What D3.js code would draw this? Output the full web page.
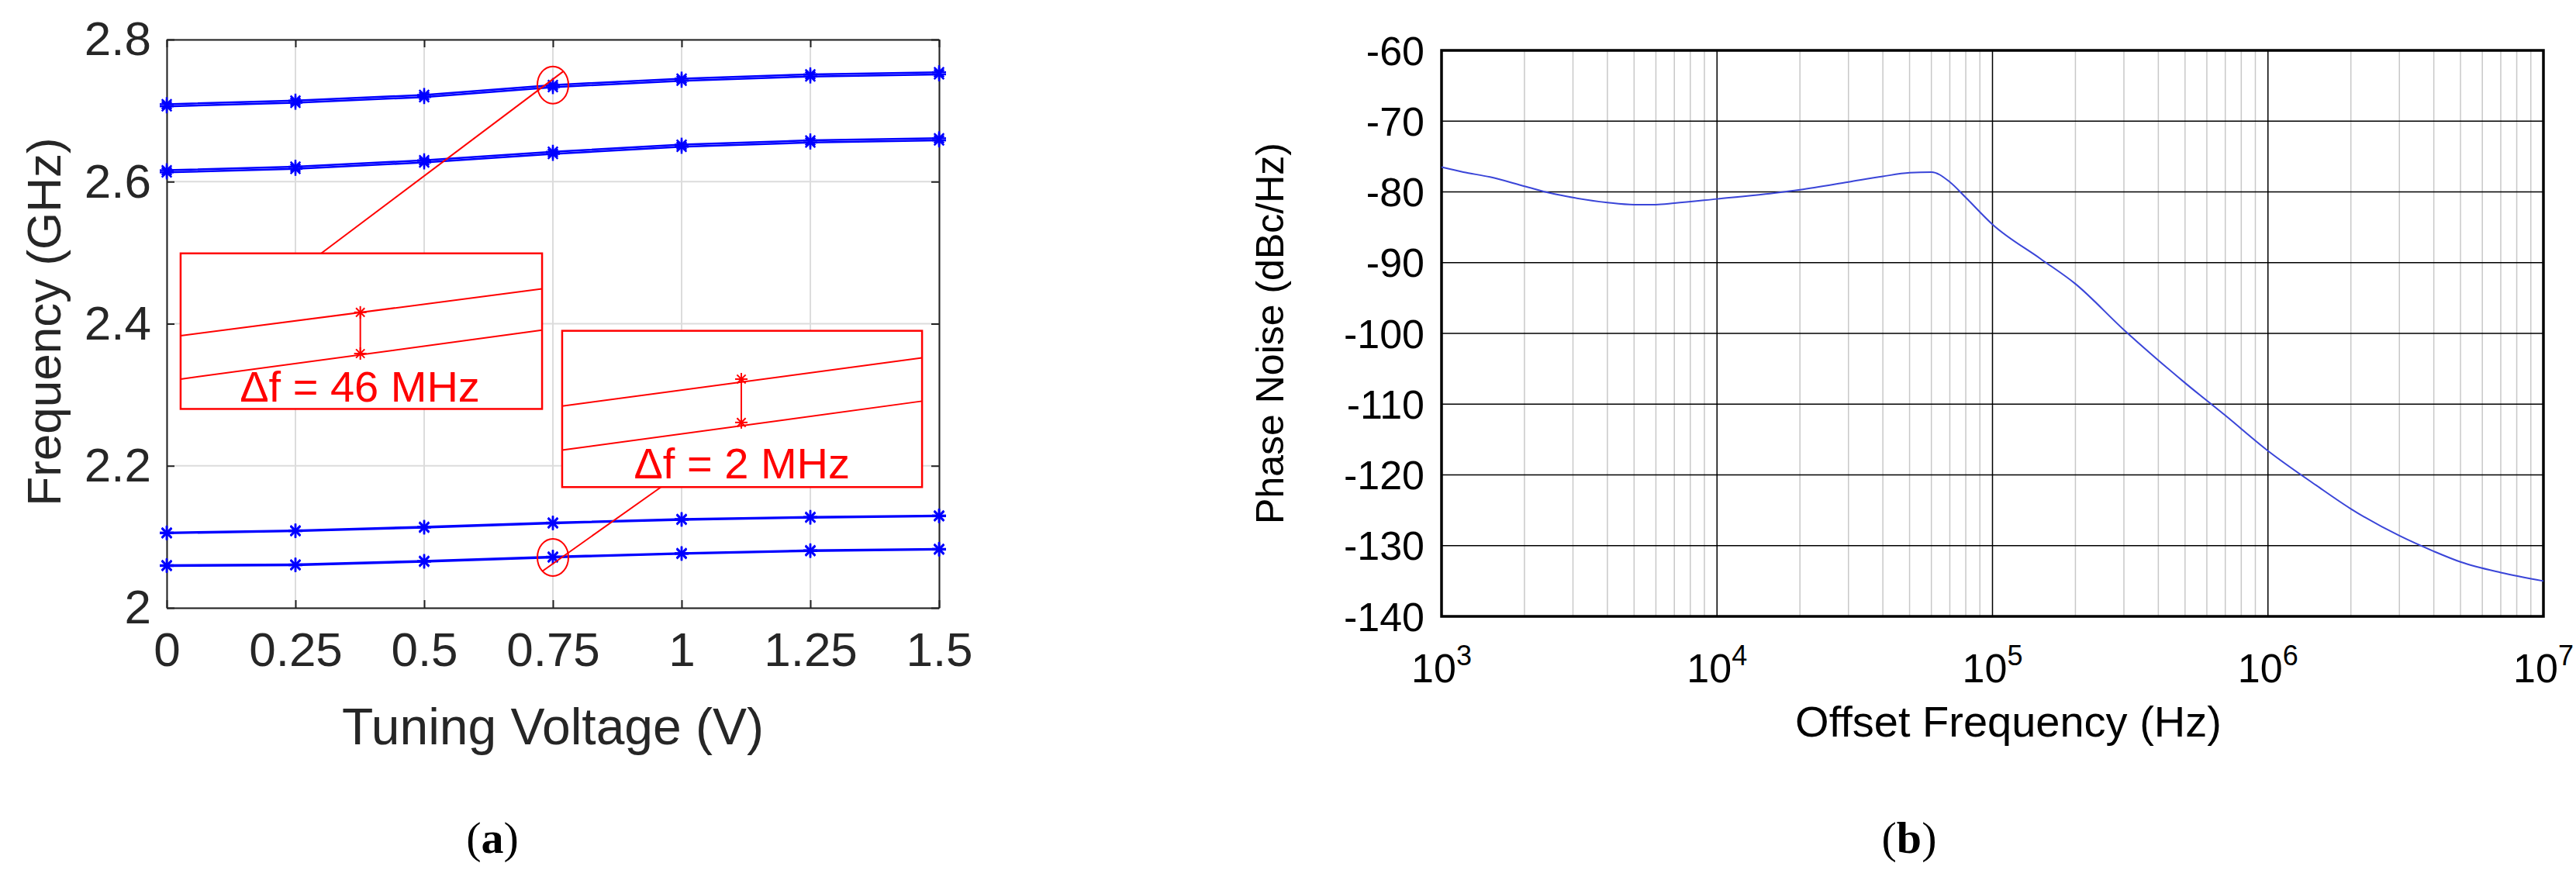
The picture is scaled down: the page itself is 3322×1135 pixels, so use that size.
<!DOCTYPE html>
<html><head><meta charset="utf-8">
<script src="https://cdn.jsdelivr.net/npm/d3@7"></script>
<style>body{margin:0;background:#fff}svg{display:block}</style>
</head><body>
<svg id="chart" width="3322" height="1135"></svg>
<script>
// ---- data: panel (a)
var voltages = [0, 0.25, 0.5, 0.75, 1, 1.25, 1.5];
var curveA1 = [2.709, 2.714, 2.722, 2.736, 2.745, 2.751, 2.754];
var curveA2 = [2.706, 2.711, 2.719, 2.733, 2.742, 2.748, 2.751];
var curveB1 = [2.616, 2.621, 2.630, 2.642, 2.652, 2.658, 2.661];
var curveB2 = [2.613, 2.618, 2.627, 2.639, 2.649, 2.655, 2.658];
var curveC1 = [2.106, 2.109, 2.114, 2.120, 2.125, 2.128, 2.130];
var curveC2 = [2.105, 2.108, 2.113, 2.119, 2.124, 2.127, 2.129];
var curveD1 = [2.060, 2.061, 2.066, 2.072, 2.077, 2.081, 2.083];
var curveD2 = [2.059, 2.060, 2.065, 2.071, 2.076, 2.080, 2.082];
var xTicksA = [0, 0.25, 0.5, 0.75, 1, 1.25, 1.5];
var yTicksA = [2, 2.2, 2.4, 2.6, 2.8];

// ---- data: panel (b)
var offsetFreq = [1e3, 1.2e3, 1.5e3, 2e3, 2.5e3, 3e3, 4e3, 5e3, 6e3, 7e3, 1e4, 1.5e4, 2e4, 3e4, 4e4, 5e4, 6e4, 7e4, 8e4, 1e5,
  1.5e5, 2e5, 3e5, 4e5, 5e5, 7e5, 1e6, 1.5e6, 2e6, 3e6, 4e6, 5e6, 7e6, 1e7];
var phaseNoise = [-76.5, -77.2, -77.9, -79.2, -80.2, -80.8, -81.5, -81.8, -81.8, -81.6, -81.0, -80.3, -79.7, -78.6, -77.8, -77.3, -77.2, -78.6, -80.8, -84.6,
  -89.5, -93.0, -99.5, -103.8, -107.0, -111.6, -116.6, -121.5, -124.8, -128.6, -130.8, -132.3, -133.8, -135.0];
var yTicksB = [-60, -70, -80, -90, -100, -110, -120, -130, -140];
var xDecades = [3, 4, 5, 6, 7];

var svg = d3.select("#chart");
var narrow = "'Liberation Sans Narrow', 'Arial Narrow', 'Liberation Sans', sans-serif";

// ================= Panel (a)
var xA = d3.scaleLinear().domain([0, 1.5]).range([215, 1211]);
var yA = d3.scaleLinear().domain([2, 2.8]).range([784, 51]);
var gA = svg.append("g");

gA.selectAll(".vg").data(xTicksA).enter().append("line")
  .attr("x1", d => xA(d)).attr("x2", d => xA(d)).attr("y1", yA(2)).attr("y2", yA(2.8))
  .attr("stroke", "#dcdcdc").attr("stroke-width", 2);
gA.selectAll(".hg").data(yTicksA).enter().append("line")
  .attr("y1", d => yA(d)).attr("y2", d => yA(d)).attr("x1", xA(0)).attr("x2", xA(1.5))
  .attr("stroke", "#dcdcdc").attr("stroke-width", 2);

var axA = gA.append("g").attr("transform", "translate(0," + yA(2) + ")")
  .call(d3.axisBottom(xA).tickValues(xTicksA).tickSizeInner(-10).tickSizeOuter(0).tickPadding(28).tickFormat(d3.format("")));
var ayA = gA.append("g").attr("transform", "translate(" + xA(0) + ",0)")
  .call(d3.axisLeft(yA).tickValues(yTicksA).tickSizeInner(-10).tickSizeOuter(0).tickPadding(20).tickFormat(d3.format("")));
gA.append("g").attr("transform", "translate(0," + yA(2.8) + ")")
  .call(d3.axisTop(xA).tickValues(xTicksA).tickSizeInner(-10).tickSizeOuter(0).tickFormat(""));
gA.append("g").attr("transform", "translate(" + xA(1.5) + ",0)")
  .call(d3.axisRight(yA).tickValues(yTicksA).tickSizeInner(-10).tickSizeOuter(0).tickFormat(""));
gA.selectAll(".domain").attr("stroke", "#222").attr("stroke-width", 2);
gA.selectAll(".tick line").attr("stroke", "#222").attr("stroke-width", 2);
gA.selectAll(".tick text").attr("font-family", narrow).attr("font-size", 62).attr("fill", "#262626");
axA.selectAll(".tick text").attr("dy", "0.75em");

var lineA = d3.line().x((d, i) => xA(voltages[i])).y(d => yA(d));
[curveA1, curveA2, curveB1, curveB2, curveC1, curveC2, curveD1, curveD2].forEach(function (c) {
  gA.append("path").attr("d", lineA(c)).attr("fill", "none").attr("stroke", "#0000ff").attr("stroke-width", 2.5);
  c.forEach(function (v, i) {
    var px = xA(voltages[i]), py = yA(v), r = 9;
    var g = gA.append("g").attr("stroke", "#0000ff").attr("stroke-width", 2.5);
    g.append("line").attr("x1", px - r).attr("x2", px + r).attr("y1", py).attr("y2", py);
    g.append("line").attr("x1", px).attr("x2", px).attr("y1", py - r).attr("y2", py + r);
    g.append("line").attr("x1", px - r * .7).attr("x2", px + r * .7).attr("y1", py - r * .7).attr("y2", py + r * .7);
    g.append("line").attr("x1", px - r * .7).attr("x2", px + r * .7).attr("y1", py + r * .7).attr("y2", py - r * .7);
  });
});

// annotations in data units of panel (a)
var insets = [
  { x0: 0.027, x1: 0.729, y0: 2.280, y1: 2.499, circle: [0.75, 2.736], hook: [0.30, 2.499],
    l1: [2.383, 2.449], l2: [2.322, 2.391], mx: 0.376, m: [2.416, 2.358], label: "Δf = 46 MHz", tx: 0.375, ty: 2.29 },
  { x0: 0.768, x1: 1.467, y0: 2.170, y1: 2.390, circle: [0.75, 2.071], hook: [0.96, 2.170],
    l1: [2.284, 2.352], l2: [2.222, 2.291], mx: 1.116, m: [2.322, 2.261], label: "Δf = 2 MHz", tx: 1.117, ty: 2.182 }
];
var red = "#ff0000";
insets.forEach(function (b) {
  gA.append("ellipse").attr("cx", xA(b.circle[0])).attr("cy", yA(b.circle[1])).attr("rx", 20).attr("ry", 24)
    .attr("fill", "none").attr("stroke", red).attr("stroke-width", 2);
  gA.append("line").attr("x1", xA(b.circle[0]) + (b.hook[1] > b.circle[1] ? -14 : 14))
    .attr("y1", yA(b.circle[1]) + (b.hook[1] > b.circle[1] ? 18 : -18))
    .attr("x2", xA(b.hook[0])).attr("y2", yA(b.hook[1])).attr("stroke", red).attr("stroke-width", 2);
  gA.append("rect").attr("x", xA(b.x0)).attr("y", yA(b.y1)).attr("width", xA(b.x1) - xA(b.x0)).attr("height", yA(b.y0) - yA(b.y1))
    .attr("fill", "#fff").attr("stroke", red).attr("stroke-width", 2.5);
  gA.append("line").attr("x1", xA(b.x0)).attr("x2", xA(b.x1)).attr("y1", yA(b.l1[0])).attr("y2", yA(b.l1[1])).attr("stroke", red).attr("stroke-width", 2);
  gA.append("line").attr("x1", xA(b.x0)).attr("x2", xA(b.x1)).attr("y1", yA(b.l2[0])).attr("y2", yA(b.l2[1])).attr("stroke", red).attr("stroke-width", 2);
  gA.append("line").attr("x1", xA(b.mx)).attr("x2", xA(b.mx)).attr("y1", yA(b.m[0])).attr("y2", yA(b.m[1])).attr("stroke", red).attr("stroke-width", 2);
  b.m.forEach(function (v) {
    var px = xA(b.mx), py = yA(v), r = 8;
    var g = gA.append("g").attr("stroke", red).attr("stroke-width", 2);
    g.append("line").attr("x1", px - r).attr("x2", px + r).attr("y1", py).attr("y2", py);
    g.append("line").attr("x1", px).attr("x2", px).attr("y1", py - r).attr("y2", py + r);
    g.append("line").attr("x1", px - r * .7).attr("x2", px + r * .7).attr("y1", py - r * .7).attr("y2", py + r * .7);
    g.append("line").attr("x1", px - r * .7).attr("x2", px + r * .7).attr("y1", py + r * .7).attr("y2", py - r * .7);
  });
  gA.append("text").attr("x", xA(b.tx)).attr("y", yA(b.ty)).attr("text-anchor", "middle")
    .attr("font-family", narrow).attr("font-size", 56).attr("fill", red).text(b.label);
});

svg.append("text").attr("transform", "translate(78,415) rotate(-90)").attr("text-anchor", "middle")
  .attr("font-family", "'Liberation Sans', Arial, sans-serif").attr("font-size", 62).attr("fill", "#262626").text("Frequency (GHz)");
svg.append("text").attr("x", 713).attr("y", 960).attr("text-anchor", "middle")
  .attr("font-family", narrow).attr("font-size", 66).attr("fill", "#262626").text("Tuning Voltage (V)");

// ================= Panel (b)
var xB = d3.scaleLog().domain([1e3, 1e7]).range([1859, 3280]);
var yB = d3.scaleLinear().domain([-140, -60]).range([795, 65]);
var gB = svg.append("g");

var minors = [];
for (var e = 3; e < 7; e++) for (var k = 2; k <= 9; k++) minors.push(k * Math.pow(10, e));
gB.selectAll(".mg").data(minors).enter().append("line")
  .attr("x1", d => xB(d)).attr("x2", d => xB(d)).attr("y1", yB(-140)).attr("y2", yB(-60))
  .attr("stroke", "#c8c8c8").attr("stroke-width", 1.5);
gB.selectAll(".Mg").data(xDecades).enter().append("line")
  .attr("x1", d => xB(Math.pow(10, d))).attr("x2", d => xB(Math.pow(10, d))).attr("y1", yB(-140)).attr("y2", yB(-60))
  .attr("stroke", "#000").attr("stroke-width", 1.5);
gB.selectAll(".hg").data(yTicksB).enter().append("line")
  .attr("y1", d => yB(d)).attr("y2", d => yB(d)).attr("x1", xB(1e3)).attr("x2", xB(1e7))
  .attr("stroke", "#000").attr("stroke-width", 1.5);
gB.append("rect").attr("x", xB(1e3)).attr("y", yB(-60)).attr("width", xB(1e7) - xB(1e3)).attr("height", yB(-140) - yB(-60))
  .attr("fill", "none").attr("stroke", "#000").attr("stroke-width", 3.5);

gB.selectAll(".yl").data(yTicksB).enter().append("text")
  .attr("x", xB(1e3) - 22).attr("y", d => yB(d)).attr("dy", "0.36em").attr("text-anchor", "end")
  .attr("font-family", narrow).attr("font-size", 52).attr("fill", "#000").text(d => d);
var xl = gB.selectAll(".xl").data(xDecades).enter().append("text")
  .attr("x", d => xB(Math.pow(10, d))).attr("y", 880).attr("text-anchor", "middle")
  .attr("font-family", narrow).attr("font-size", 52).attr("fill", "#000");
xl.append("tspan").text("10");
xl.append("tspan").attr("dy", -22).attr("font-size", 36).text(d => d);

var lineB = d3.line().x((d, i) => xB(offsetFreq[i])).y(d => yB(d)).curve(d3.curveMonotoneX);
gB.append("path").attr("d", lineB(phaseNoise)).attr("fill", "none").attr("stroke", "#3a45d8").attr("stroke-width", 2);

svg.append("text").attr("transform", "translate(1655,430) rotate(-90)").attr("text-anchor", "middle")
  .attr("font-family", "'Liberation Sans', Arial, sans-serif").attr("font-size", 50).attr("fill", "#000").text("Phase Noise (dBc/Hz)");
svg.append("text").attr("x", 2590).attr("y", 950).attr("text-anchor", "middle")
  .attr("font-family", narrow).attr("font-size", 56).attr("fill", "#000").text("Offset Frequency (Hz)");

// captions
[["a", 635], ["b", 2462]].forEach(function (c) {
  var t = svg.append("text").attr("x", c[1]).attr("y", 1100).attr("text-anchor", "middle")
    .attr("font-family", "'Liberation Serif', 'Times New Roman', serif").attr("font-size", 58).attr("fill", "#000");
  t.append("tspan").text("(");
  t.append("tspan").attr("font-weight", "bold").text(c[0]);
  t.append("tspan").text(")");
});
</script>
</body></html>
